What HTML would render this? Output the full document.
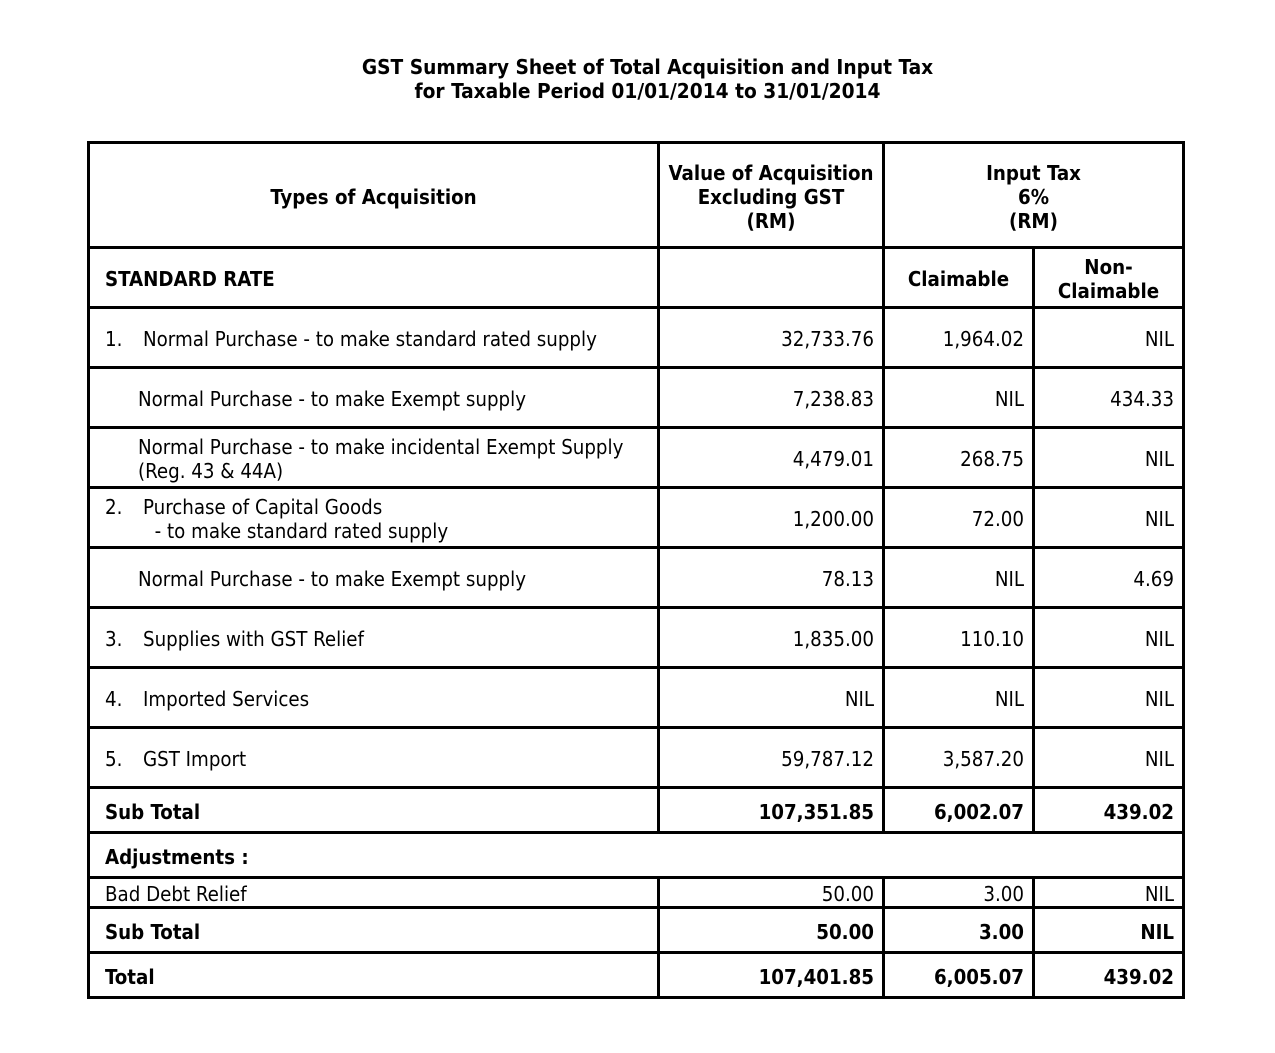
<!DOCTYPE html>
<html><head><meta charset="utf-8"><style>
body{margin:0;width:1275px;height:1053px;background:#fff;position:relative;font-family:"DejaVu Sans Condensed","DejaVu Sans",sans-serif;color:#000;overflow:hidden}
.h{position:absolute;height:3px;background:#000;left:87px;width:1098px}
.v{position:absolute;width:3px;background:#000}
.c{position:absolute;display:flex;align-items:center;font-size:20.3px;line-height:24px;box-sizing:border-box;padding-top:3px}
.r{justify-content:flex-end;text-align:right;padding-right:8px}
.m{justify-content:center;text-align:center}
.b{font-weight:bold}
.t{position:absolute;left:10px;width:1275px;text-align:center;font-weight:bold;font-size:20.7px;line-height:24px}
.n{display:inline-block;width:38px}
</style></head><body>
<div class="t" style="top:55px">GST Summary Sheet of Total Acquisition and Input Tax<br>for Taxable Period 01/01/2014 to 31/01/2014</div>
<div class="h" style="top:141px"></div>
<div class="h" style="top:246px"></div>
<div class="h" style="top:306px"></div>
<div class="h" style="top:366px"></div>
<div class="h" style="top:426px"></div>
<div class="h" style="top:486px"></div>
<div class="h" style="top:546px"></div>
<div class="h" style="top:606px"></div>
<div class="h" style="top:666px"></div>
<div class="h" style="top:726px"></div>
<div class="h" style="top:786px"></div>
<div class="h" style="top:831px"></div>
<div class="h" style="top:876px"></div>
<div class="h" style="top:906px"></div>
<div class="h" style="top:951px"></div>
<div class="h" style="top:996px"></div>
<div class="v" style="left:87px;top:141px;height:858px"></div>
<div class="v" style="left:1182px;top:141px;height:858px"></div>
<div class="v" style="left:657px;top:141px;height:693px"></div>
<div class="v" style="left:882px;top:141px;height:693px"></div>
<div class="v" style="left:1032px;top:246px;height:588px"></div>
<div class="v" style="left:657px;top:876px;height:123px"></div>
<div class="v" style="left:882px;top:876px;height:123px"></div>
<div class="v" style="left:1032px;top:876px;height:123px"></div>

<div class="c m b" style="left:90px;top:144px;width:567px;height:102px">Types of Acquisition</div>
<div class="c m b" style="left:660px;top:144px;width:222px;height:102px">Value of Acquisition<br>Excluding GST<br>(RM)</div>
<div class="c m b" style="left:885px;top:144px;width:297px;height:102px">Input Tax<br>6%<br>(RM)</div>
<div class="c b" style="left:105px;top:249px;width:550px;height:57px">STANDARD RATE</div>
<div class="c m b" style="left:885px;top:249px;width:147px;height:57px">Claimable</div>
<div class="c m b" style="left:1035px;top:249px;width:147px;height:57px">Non-<br>Claimable</div>

<div class="c" style="left:105px;top:309px;width:550px;height:57px"><span class="n">1.</span>Normal Purchase - to make standard rated supply</div>
<div class="c r" style="left:660px;top:309px;width:222px;height:57px">32,733.76</div>
<div class="c r" style="left:885px;top:309px;width:147px;height:57px">1,964.02</div>
<div class="c r" style="left:1035px;top:309px;width:147px;height:57px">NIL</div>

<div class="c" style="left:138px;top:369px;width:517px;height:57px">Normal Purchase - to make Exempt supply</div>
<div class="c r" style="left:660px;top:369px;width:222px;height:57px">7,238.83</div>
<div class="c r" style="left:885px;top:369px;width:147px;height:57px">NIL</div>
<div class="c r" style="left:1035px;top:369px;width:147px;height:57px">434.33</div>

<div class="c" style="left:138px;top:429px;width:517px;height:57px">Normal Purchase - to make incidental Exempt Supply<br>(Reg. 43 &amp; 44A)</div>
<div class="c r" style="left:660px;top:429px;width:222px;height:57px">4,479.01</div>
<div class="c r" style="left:885px;top:429px;width:147px;height:57px">268.75</div>
<div class="c r" style="left:1035px;top:429px;width:147px;height:57px">NIL</div>

<div class="c" style="left:105px;top:489px;width:550px;height:57px"><div><span class="n">2.</span>Purchase of Capital Goods<br><span class="n"></span>&nbsp;&nbsp;- to make standard rated supply</div></div>
<div class="c r" style="left:660px;top:489px;width:222px;height:57px">1,200.00</div>
<div class="c r" style="left:885px;top:489px;width:147px;height:57px">72.00</div>
<div class="c r" style="left:1035px;top:489px;width:147px;height:57px">NIL</div>

<div class="c" style="left:138px;top:549px;width:517px;height:57px">Normal Purchase - to make Exempt supply</div>
<div class="c r" style="left:660px;top:549px;width:222px;height:57px">78.13</div>
<div class="c r" style="left:885px;top:549px;width:147px;height:57px">NIL</div>
<div class="c r" style="left:1035px;top:549px;width:147px;height:57px">4.69</div>

<div class="c" style="left:105px;top:609px;width:550px;height:57px"><span class="n">3.</span>Supplies with GST Relief</div>
<div class="c r" style="left:660px;top:609px;width:222px;height:57px">1,835.00</div>
<div class="c r" style="left:885px;top:609px;width:147px;height:57px">110.10</div>
<div class="c r" style="left:1035px;top:609px;width:147px;height:57px">NIL</div>

<div class="c" style="left:105px;top:669px;width:550px;height:57px"><span class="n">4.</span>Imported Services</div>
<div class="c r" style="left:660px;top:669px;width:222px;height:57px">NIL</div>
<div class="c r" style="left:885px;top:669px;width:147px;height:57px">NIL</div>
<div class="c r" style="left:1035px;top:669px;width:147px;height:57px">NIL</div>

<div class="c" style="left:105px;top:729px;width:550px;height:57px"><span class="n">5.</span>GST Import</div>
<div class="c r" style="left:660px;top:729px;width:222px;height:57px">59,787.12</div>
<div class="c r" style="left:885px;top:729px;width:147px;height:57px">3,587.20</div>
<div class="c r" style="left:1035px;top:729px;width:147px;height:57px">NIL</div>

<div class="c b" style="left:105px;top:789px;width:550px;height:42px">Sub Total</div>
<div class="c r b" style="left:660px;top:789px;width:222px;height:42px">107,351.85</div>
<div class="c r b" style="left:885px;top:789px;width:147px;height:42px">6,002.07</div>
<div class="c r b" style="left:1035px;top:789px;width:147px;height:42px">439.02</div>

<div class="c b" style="left:105px;top:834px;width:550px;height:42px">Adjustments :</div>

<div class="c" style="left:105px;top:879px;width:550px;height:27px">Bad Debt Relief</div>
<div class="c r" style="left:660px;top:879px;width:222px;height:27px">50.00</div>
<div class="c r" style="left:885px;top:879px;width:147px;height:27px">3.00</div>
<div class="c r" style="left:1035px;top:879px;width:147px;height:27px">NIL</div>

<div class="c b" style="left:105px;top:909px;width:550px;height:42px">Sub Total</div>
<div class="c r b" style="left:660px;top:909px;width:222px;height:42px">50.00</div>
<div class="c r b" style="left:885px;top:909px;width:147px;height:42px">3.00</div>
<div class="c r b" style="left:1035px;top:909px;width:147px;height:42px">NIL</div>

<div class="c b" style="left:105px;top:954px;width:550px;height:42px">Total</div>
<div class="c r b" style="left:660px;top:954px;width:222px;height:42px">107,401.85</div>
<div class="c r b" style="left:885px;top:954px;width:147px;height:42px">6,005.07</div>
<div class="c r b" style="left:1035px;top:954px;width:147px;height:42px">439.02</div>
</body></html>
